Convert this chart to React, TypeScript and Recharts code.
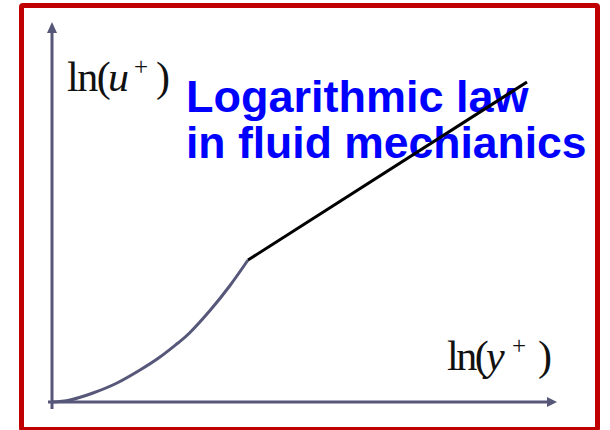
import React from "react";
import { LineChart, Line, XAxis, YAxis, ReferenceLine, ReferenceDot } from "recharts";

// Near-wall (buffer) curve, in ln(y+) / ln(u+) units (arbitrary scale)
const curveX = [0, 0.36, 0.82, 1.3, 1.76, 2.16, 2.52, 2.76, 3.16, 3.56, 3.92];
const curveY = [0, 0.04, 0.18, 0.38, 0.64, 0.9, 1.18, 1.39, 1.83, 2.33, 2.84];
// Logarithmic law segment
const lawX = [3.92, 9.5];
const lawY = [2.84, 6.4];

const xDomain = [-0.08, 10.1];
const yDomain = [-0.14, 7.6];
const xArrowBase = 9.9;
const yArrowBase = 7.38;

const curveData = curveX.map((x, i) => ({ x, y: curveY[i] }));
const lawData = lawX.map((x, i) => ({ x, y: lawY[i] }));

const AXIS = "#57577a";
const SERIF = "'Liberation Serif', 'Times New Roman', serif";
const SANS = "'Liberation Sans', Arial, sans-serif";

const UpArrow = (p: any) => {
  const { cx, cy } = p;
  return <polygon points={`${cx},${cy - 11} ${cx - 5},${cy} ${cx + 5},${cy}`} fill={AXIS} />;
};
const RightArrow = (p: any) => {
  const { cx, cy } = p;
  return <polygon points={`${cx + 10},${cy} ${cx},${cy - 5} ${cx},${cy + 5}`} fill={AXIS} />;
};

export default function App() {
  return (
    <div style={{ position: "absolute", left: 0, top: 0, width: 610, height: 430, overflow: "hidden", background: "#fff" }}>
      <div
        style={{
          position: "absolute",
          left: 19,
          top: 3,
          width: 581,
          height: 429,
          border: "5px solid #c00000",
          borderRadius: 4,
          boxSizing: "border-box",
        }}
      />
      <svg width={610} height={430} style={{ position: "absolute", left: 0, top: 0 }}>
        <text x={186} y={112} fill="#0000ff" fontFamily={SANS} fontWeight="bold" fontSize={45}>
          Logarithmic law
        </text>
        <text x={186} y={158} fill="#0000ff" fontFamily={SANS} fontWeight="bold" fontSize={44.5}>
          in fluid mechianics
        </text>
        <text y={91} fill="#111" fontFamily={SERIF} fontSize={42}>
          <tspan x={67} letterSpacing={-1.5}>ln(</tspan>
          <tspan x={108} fontStyle="italic">u</tspan>
          <tspan x={134} y={75} fontSize={25}>+</tspan>
          <tspan x={156} y={91}>)</tspan>
        </text>
        <text y={370} fill="#111" fontFamily={SERIF} fontSize={42}>
          <tspan x={447} letterSpacing={-2.5}>ln(</tspan>
          <tspan x={486} fontStyle="italic">y</tspan>
          <tspan x={512} y={354} fontSize={25}>+</tspan>
          <tspan x={538} y={370}>)</tspan>
        </text>
      </svg>
      <div style={{ position: "absolute", left: 0, top: 0 }}>
        <LineChart width={610} height={430} margin={{ top: 22, right: 53, bottom: 21, left: 48 }}>
          <XAxis type="number" dataKey="x" domain={xDomain} hide allowDataOverflow />
          <YAxis type="number" dataKey="y" domain={yDomain} hide allowDataOverflow />
          <ReferenceLine
            segment={[{ x: 0, y: yDomain[0] }, { x: 0, y: yArrowBase }]}
            stroke={AXIS}
            strokeWidth={3}
            ifOverflow="visible"
          />
          <ReferenceLine
            segment={[{ x: xDomain[0], y: 0 }, { x: xArrowBase, y: 0 }]}
            stroke={AXIS}
            strokeWidth={3}
            ifOverflow="visible"
          />
          <ReferenceDot x={0} y={yArrowBase} r={5} shape={UpArrow} ifOverflow="visible" />
          <ReferenceDot x={xArrowBase} y={0} r={5} shape={RightArrow} ifOverflow="visible" />
          <Line data={curveData} dataKey="y" type="natural" stroke={AXIS} strokeWidth={3} dot={false} isAnimationActive={false} />
          <Line data={lawData} dataKey="y" type="linear" stroke="#000" strokeWidth={3} dot={false} isAnimationActive={false} />
        </LineChart>
      </div>
    </div>
  );
}
